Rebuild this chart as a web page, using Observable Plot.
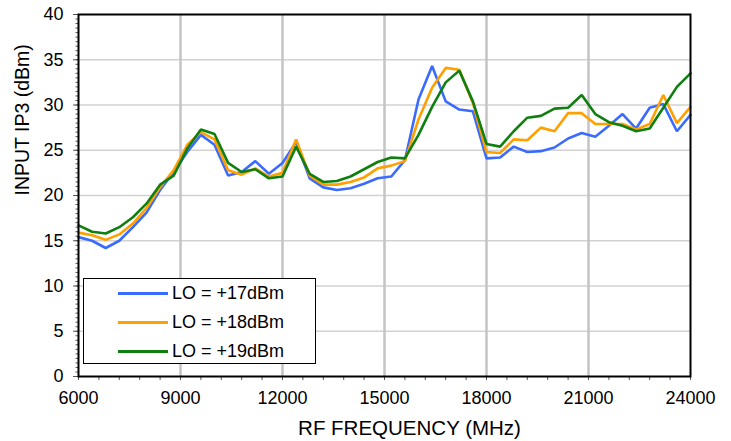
<!DOCTYPE html>
<html>
<head>
<meta charset="utf-8">
<script src="https://cdn.jsdelivr.net/npm/d3@7"></script>
<script src="https://cdn.jsdelivr.net/npm/@observablehq/plot@0.6"></script>
<style>
  body { margin: 0; background: white; }
  #wrap { position: relative; width: 731px; height: 441px; font-family: "Liberation Sans", Arial, sans-serif; }
  #legend { position: absolute; left: 83px; top: 278px; width: 233px; height: 86px; border: 1px solid #000; background: #fff; box-sizing: border-box; }
  .row { position: absolute; left: 0; height: 20px; }
  .sw { position: absolute; left: 34px; width: 50px; height: 3px; }
  .lb { position: absolute; left: 88px; font-size: 18px; white-space: nowrap; line-height: 20px; }
</style>
</head>
<body>
<div id="wrap"></div>
<script>
const freqs = [6000, 6400, 6800, 7200, 7600, 8000, 8400, 8800, 9200, 9600,
  10000, 10400, 10800, 11200, 11600, 12000, 12400, 12800, 13200, 13600,
  14000, 14400, 14800, 15200, 15600, 16000, 16400, 16800, 17200, 17600,
  18000, 18400, 18800, 19200, 19600, 20000, 20400, 20800, 21200, 21600,
  22000, 22400, 22800, 23200, 23600, 24000];

const lo17 = [15.4, 15.0, 14.2, 15.0, 16.5, 18.1, 20.6, 22.6, 24.8, 26.7,
  25.6, 22.2, 22.6, 23.8, 22.4, 23.6, 25.9, 21.9, 20.9, 20.6,
  20.8, 21.3, 21.9, 22.1, 23.9, 30.6, 34.3, 30.4, 29.5, 29.3,
  24.1, 24.2, 25.4, 24.8, 24.9, 25.3, 26.3, 26.9, 26.5, 27.7,
  29.0, 27.4, 29.7, 30.1, 27.1, 28.9];

const lo18 = [15.9, 15.6, 15.1, 15.7, 16.9, 18.6, 20.9, 22.8, 25.6, 27.0,
  26.2, 22.8, 22.3, 23.0, 22.1, 22.5, 26.2, 22.2, 21.2, 21.2,
  21.5, 22.0, 23.0, 23.3, 23.8, 28.4, 31.9, 34.1, 33.9, 30.2,
  24.8, 24.7, 26.2, 26.1, 27.5, 27.1, 29.1, 29.1, 27.9, 27.9,
  27.9, 27.3, 27.9, 31.1, 28.0, 29.8];

const lo19 = [16.7, 16.0, 15.8, 16.5, 17.6, 19.1, 21.2, 22.2, 25.2, 27.3,
  26.8, 23.6, 22.6, 22.9, 21.9, 22.1, 25.4, 22.4, 21.5, 21.6,
  22.1, 22.9, 23.7, 24.2, 24.1, 26.7, 29.8, 32.5, 33.8, 30.4,
  25.7, 25.4, 27.1, 28.6, 28.8, 29.6, 29.7, 31.1, 29.0, 28.1,
  27.7, 27.1, 27.4, 29.7, 32.0, 33.5];

const seriesNames = ["LO = +17dBm", "LO = +18dBm", "LO = +19dBm"];
const seriesColors = ["#3a6bff", "#ff9f00", "#0f7f0f"];
const xTicks = [6000, 9000, 12000, 15000, 18000, 21000, 24000];
const xMinorTicks = [6000, 6600, 7200, 7800, 8400, 9000, 9600, 10200, 10800, 11400,
  12000, 12600, 13200, 13800, 14400, 15000, 15600, 16200, 16800, 17400,
  18000, 18600, 19200, 19800, 20400, 21000, 21600, 22200, 22800, 23400, 24000];
const yTicks = [0, 5, 10, 15, 20, 25, 30, 35, 40];
const xLabel = "RF FREQUENCY (MHz)";
const yLabel = "INPUT IP3 (dBm)";

const seriesValues = [lo17, lo18, lo19];
const rows = [];
seriesNames.forEach((s, k) => freqs.forEach((f, i) => rows.push({s, f, v: seriesValues[k][i]})));
const yMinorTicks = d3.range(0, 40.001, 0.5);

const chart = Plot.plot({
  width: 731,
  height: 441,
  marginLeft: 78,
  marginRight: 41,
  marginTop: 14,
  marginBottom: 65,
  style: {fontFamily: '"Liberation Sans", Arial, sans-serif', fontSize: "18px", color: "#000", background: "white"},
  x: {domain: [6000, 24000]},
  y: {domain: [0, 40]},
  color: {domain: seriesNames, range: seriesColors},
  marks: [
    Plot.gridY(yTicks.filter(d => d > 0 && d < 40), {stroke: "#d2d2d2", strokeWidth: 1.3, strokeOpacity: 1}),
    Plot.gridX(xTicks.filter(d => d > 6000 && d < 24000), {stroke: "#c4c4c4", strokeWidth: 2.5, strokeOpacity: 1}),
    Plot.line(rows, {x: "f", y: "v", z: "s", stroke: "s", strokeWidth: 2.6, strokeLinejoin: "miter"}),
    Plot.axisY({ticks: yMinorTicks, tickSize: 2.5, tickFormat: () => "", label: null, stroke: "#555"}),
    Plot.axisY({ticks: yTicks, tickSize: 5, tickPadding: 10, label: null, fontSize: 18, stroke: "#555"}),
    Plot.axisX({ticks: xMinorTicks, tickSize: 4, tickFormat: () => "", label: null, stroke: "#555"}),
    Plot.axisX({ticks: xTicks, tickSize: 4, tickPadding: 11, tickFormat: d => String(d), label: null, fontSize: 18, stroke: "#555"}),
    Plot.frame({stroke: "#000", strokeWidth: 2}),
    Plot.text([xLabel], {frameAnchor: "bottom", dx: 25, dy: 58, fontSize: 20.5}),
    Plot.text([yLabel], {frameAnchor: "left", dx: -56, rotate: -90, fontSize: 19.5})
  ]
});

const wrap = document.getElementById("wrap");
wrap.appendChild(chart);

const legend = document.createElement("div");
legend.id = "legend";
const rowTops = [4, 33, 62];
seriesNames.forEach((s, k) => {
  const r = document.createElement("div");
  r.className = "row";
  r.style.top = rowTops[k] + "px";
  r.style.width = "100%";
  const sw = document.createElement("div");
  sw.className = "sw";
  sw.style.background = seriesColors[k];
  sw.style.top = "9px";
  const lb = document.createElement("div");
  lb.className = "lb";
  lb.style.top = "0px";
  lb.textContent = s;
  r.appendChild(sw);
  r.appendChild(lb);
  legend.appendChild(r);
});
wrap.appendChild(legend);
</script>
</body>
</html>
